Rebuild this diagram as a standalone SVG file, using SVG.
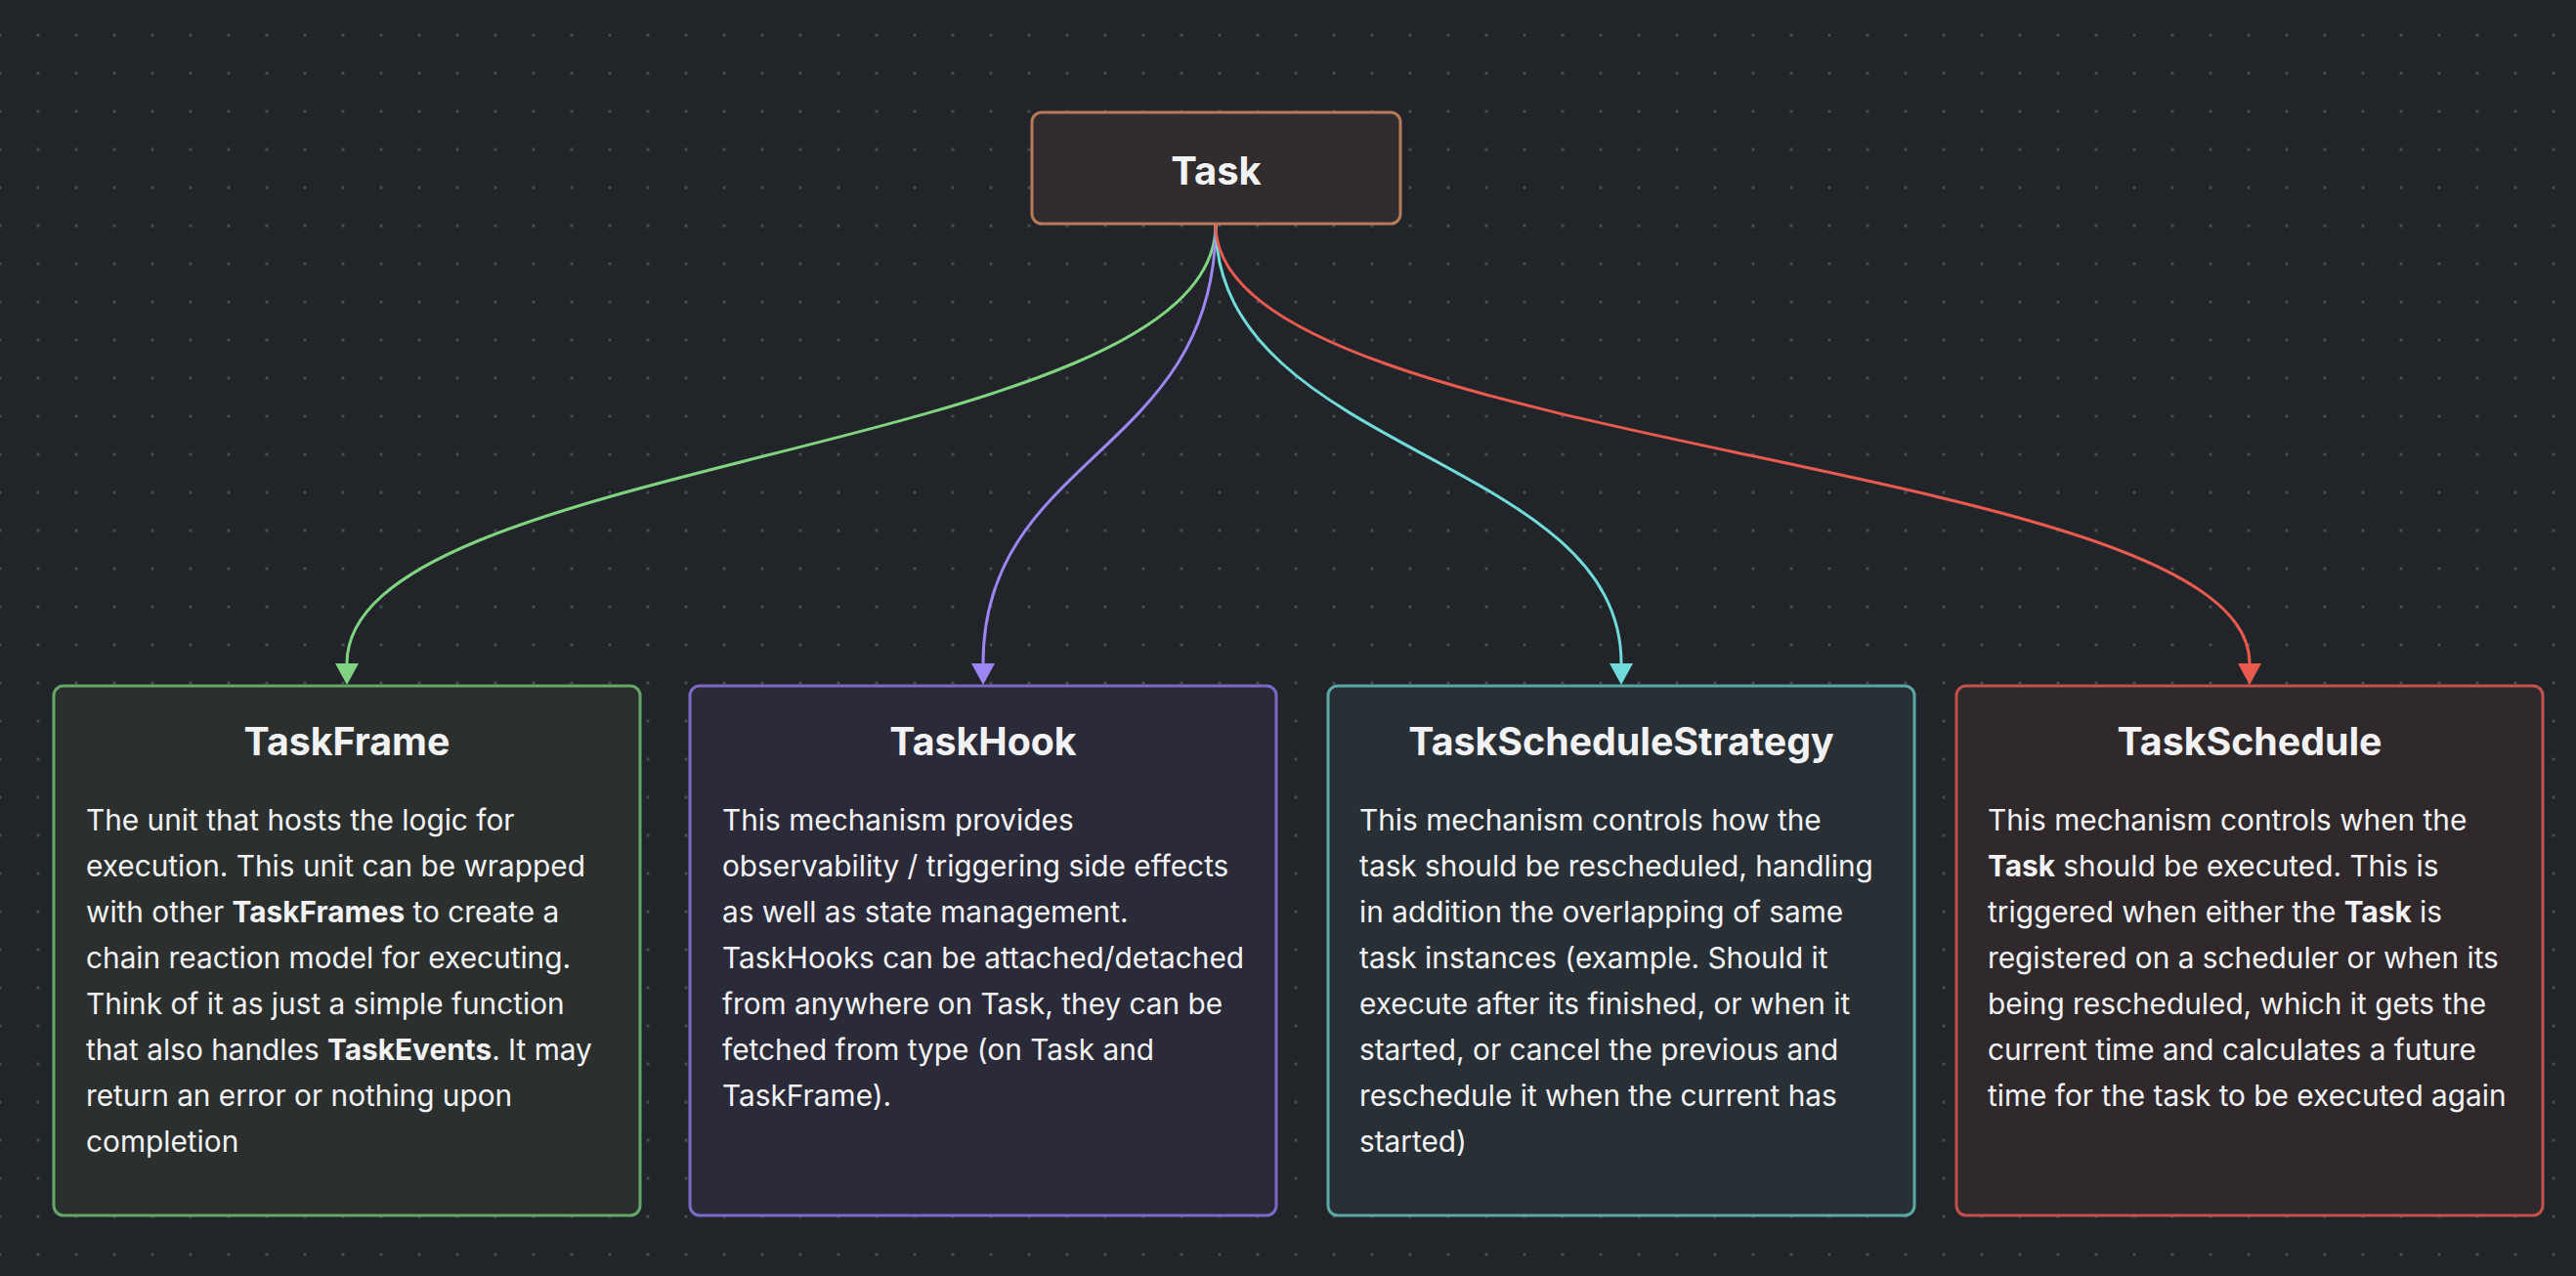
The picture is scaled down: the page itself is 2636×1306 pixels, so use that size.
<svg xmlns="http://www.w3.org/2000/svg" width="2636" height="1306" viewBox="0 0 2636 1306">
<style>
.t{font-family:Inter,"Noto Sans","Liberation Sans",sans-serif;fill:#f2f2f4}
.title{font-size:39.3px;font-weight:700;text-anchor:middle}
.body{font-size:29.8px;font-weight:400}
.b{font-weight:700}
.edge{fill:none;stroke-width:3}
</style>
<defs>
<pattern id="dots" patternUnits="userSpaceOnUse" x="-19.5" y="16.5" width="39" height="39">
<circle cx="19.5" cy="19.5" r="1.5" fill="#51555d"/>
</pattern>
<marker id="ag" markerUnits="userSpaceOnUse" markerWidth="24" markerHeight="24" refX="0" refY="12" orient="auto" viewBox="0 0 24 24"><path d="M0,0 L22,12 L0,24 z" fill="#80d480"/></marker>
<marker id="ap" markerUnits="userSpaceOnUse" markerWidth="24" markerHeight="24" refX="0" refY="12" orient="auto" viewBox="0 0 24 24"><path d="M0,0 L22,12 L0,24 z" fill="#9d86f4"/></marker>
<marker id="at" markerUnits="userSpaceOnUse" markerWidth="24" markerHeight="24" refX="0" refY="12" orient="auto" viewBox="0 0 24 24"><path d="M0,0 L22,12 L0,24 z" fill="#70dbd8"/></marker>
<marker id="ar" markerUnits="userSpaceOnUse" markerWidth="24" markerHeight="24" refX="0" refY="12" orient="auto" viewBox="0 0 24 24"><path d="M0,0 L22,12 L0,24 z" fill="#ea5a4f"/></marker>
</defs>
<rect width="2636" height="1306" fill="#212429"/>
<rect width="2636" height="1306" fill="url(#dots)"/>

<g id="connectors">
<path class="edge" stroke="#80d480" marker-end="url(#ag)" d="M1244,230 C1244,465 355,465 355,679"/>
<path class="edge" stroke="#9d86f4" marker-end="url(#ap)" d="M1244,230 C1244,465 1006,465 1006,679"/>
<path class="edge" stroke="#70dbd8" marker-end="url(#at)" d="M1244,230 C1244,465 1659,465 1659,679"/>
<path class="edge" stroke="#ea5a4f" marker-end="url(#ar)" d="M1244,230 C1244,465 2302,465 2302,679"/>
</g>

<g id="task">
<rect x="1056" y="115" width="377" height="114" rx="10" fill="#312c2d" stroke="#b77b59" stroke-width="3"/>
<text class="t" x="1244.5" y="189" font-size="40" font-weight="700" text-anchor="middle">Task</text>
</g>

<g id="taskframe">
<rect x="55" y="702" width="600" height="542" rx="10" fill="#2b302f" stroke="#63a866" stroke-width="3"/>
<text class="t title" x="355" y="773">TaskFrame</text>
<text class="t body">
<tspan x="88" y="850">The unit that hosts the logic for</tspan>
<tspan x="88" y="897">execution. This unit can be wrapped</tspan>
<tspan x="88" y="944">with other <tspan class="b">TaskFrames</tspan> to create a</tspan>
<tspan x="88" y="991">chain reaction model for executing.</tspan>
<tspan x="88" y="1038">Think of it as just a simple function</tspan>
<tspan x="88" y="1085">that also handles <tspan class="b">TaskEvents</tspan>. It may</tspan>
<tspan x="88" y="1132">return an error or nothing upon</tspan>
<tspan x="88" y="1179">completion</tspan>
</text>
</g>

<g id="taskhook">
<rect x="706" y="702" width="600" height="542" rx="10" fill="#2b2a38" stroke="#7b6bc6" stroke-width="3"/>
<text class="t title" x="1006" y="773">TaskHook</text>
<text class="t body">
<tspan x="739" y="850">This mechanism provides</tspan>
<tspan x="739" y="897">observability / triggering side effects</tspan>
<tspan x="739" y="944">as well as state management.</tspan>
<tspan x="739" y="991">TaskHooks can be attached/detached</tspan>
<tspan x="739" y="1038">from anywhere on Task, they can be</tspan>
<tspan x="739" y="1085">fetched from type (on Task and</tspan>
<tspan x="739" y="1132">TaskFrame).</tspan>
</text>
</g>

<g id="taskschedulestrategy">
<rect x="1359" y="702" width="600" height="542" rx="10" fill="#283036" stroke="#5aa8a5" stroke-width="3"/>
<text class="t title" x="1659" y="773">TaskScheduleStrategy</text>
<text class="t body">
<tspan x="1391" y="850">This mechanism controls how the</tspan>
<tspan x="1391" y="897">task should be rescheduled, handling</tspan>
<tspan x="1391" y="944">in addition the overlapping of same</tspan>
<tspan x="1391" y="991">task instances (example. Should it</tspan>
<tspan x="1391" y="1038">execute after its finished, or when it</tspan>
<tspan x="1391" y="1085">started, or cancel the previous and</tspan>
<tspan x="1391" y="1132">reschedule it when the current has</tspan>
<tspan x="1391" y="1179">started)</tspan>
</text>
</g>

<g id="taskschedule">
<rect x="2002" y="702" width="600" height="542" rx="10" fill="#2f292c" stroke="#c2524b" stroke-width="3"/>
<text class="t title" x="2302" y="773">TaskSchedule</text>
<text class="t body">
<tspan x="2034" y="850">This mechanism controls when the</tspan>
<tspan x="2034" y="897"><tspan class="b">Task</tspan> should be executed. This is</tspan>
<tspan x="2034" y="944">triggered when either the <tspan class="b">Task</tspan> is</tspan>
<tspan x="2034" y="991">registered on a scheduler or when its</tspan>
<tspan x="2034" y="1038">being rescheduled, which it gets the</tspan>
<tspan x="2034" y="1085">current time and calculates a future</tspan>
<tspan x="2034" y="1132">time for the task to be executed again</tspan>
</text>
</g>
</svg>
